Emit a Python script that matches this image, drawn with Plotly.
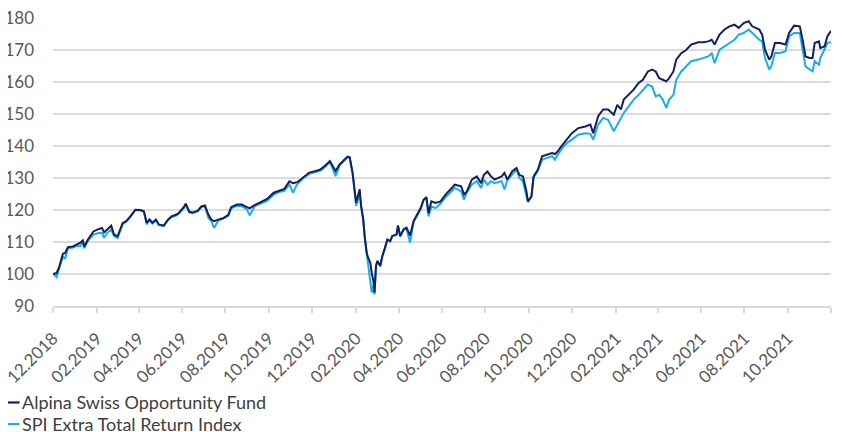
import plotly.graph_objects as go

dates = [
    "2018-12-01", "2018-12-06", "2018-12-10", "2018-12-15", "2018-12-18", "2018-12-22", "2018-12-29",
    "2019-01-04", "2019-01-08", "2019-01-12", "2019-01-14", "2019-01-19", "2019-01-27",
    "2019-02-03", "2019-02-08", "2019-02-11", "2019-02-15", "2019-02-21", "2019-02-25",
    "2019-03-02", "2019-03-09", "2019-03-14", "2019-03-20", "2019-03-27",
    "2019-04-03", "2019-04-08", "2019-04-12", "2019-04-16", "2019-04-20", "2019-04-25", "2019-04-29",
    "2019-05-06", "2019-05-12", "2019-05-17", "2019-05-23", "2019-05-27",
    "2019-06-04", "2019-06-06", "2019-06-11", "2019-06-16", "2019-06-23", "2019-06-28",
    "2019-07-03", "2019-07-08", "2019-07-12", "2019-07-16", "2019-07-22", "2019-07-29",
    "2019-08-05", "2019-08-09", "2019-08-17", "2019-08-24", "2019-08-31",
    "2019-09-04", "2019-09-11", "2019-09-21", "2019-09-28",
    "2019-10-08", "2019-10-15", "2019-10-23", "2019-10-30",
    "2019-11-04", "2019-11-10", "2019-11-20", "2019-11-27",
    "2019-12-06", "2019-12-13", "2019-12-20", "2019-12-26", "2019-12-28",
    "2020-01-03", "2020-01-09", "2020-01-16", "2020-01-20", "2020-01-23", "2020-01-27",
    "2020-02-01", "2020-02-06", "2020-02-08", "2020-02-11", "2020-02-13", "2020-02-16", "2020-02-18",
    "2020-02-21", "2020-02-23", "2020-02-25", "2020-02-27", "2020-02-29",
    "2020-03-02", "2020-03-06", "2020-03-09", "2020-03-13", "2020-03-16", "2020-03-20", "2020-03-23",
    "2020-03-29", "2020-03-31",
    "2020-04-03", "2020-04-08", "2020-04-12", "2020-04-17", "2020-04-22", "2020-04-26",
    "2020-05-02", "2020-05-06", "2020-05-10", "2020-05-13", "2020-05-17", "2020-05-23", "2020-05-30",
    "2020-06-06", "2020-06-13", "2020-06-19", "2020-06-28",
    "2020-07-02", "2020-07-06", "2020-07-13", "2020-07-20", "2020-07-26", "2020-07-30",
    "2020-08-04", "2020-08-09", "2020-08-14", "2020-08-24", "2020-08-28",
    "2020-09-01", "2020-09-08", "2020-09-14", "2020-09-18", "2020-09-23", "2020-09-28", "2020-09-30",
    "2020-10-05", "2020-10-08", "2020-10-14", "2020-10-20", "2020-10-27",
    "2020-11-03", "2020-11-07", "2020-11-11", "2020-11-18", "2020-11-24",
    "2020-12-01", "2020-12-10", "2020-12-20", "2020-12-27", "2020-12-31",
    "2021-01-07", "2021-01-14", "2021-01-21", "2021-01-29",
    "2021-02-03", "2021-02-08", "2021-02-12", "2021-02-19", "2021-02-26",
    "2021-03-05", "2021-03-11", "2021-03-18", "2021-03-24", "2021-03-29",
    "2021-04-03", "2021-04-08", "2021-04-13", "2021-04-17", "2021-04-23", "2021-04-27",
    "2021-05-04", "2021-05-11", "2021-05-18", "2021-05-28",
    "2021-06-04", "2021-06-11", "2021-06-16", "2021-06-20", "2021-06-27",
    "2021-07-04", "2021-07-11", "2021-07-18", "2021-07-24", "2021-07-31",
    "2021-08-07", "2021-08-12", "2021-08-16", "2021-08-22", "2021-08-26", "2021-08-30",
    "2021-09-05", "2021-09-08", "2021-09-13", "2021-09-20", "2021-09-28",
    "2021-10-03", "2021-10-10", "2021-10-18", "2021-10-22", "2021-10-26",
    "2021-11-01", "2021-11-05", "2021-11-08", "2021-11-14", "2021-11-16", "2021-11-22", "2021-11-26",
    "2021-12-01",
]

fund = [
    100, 100.3, 102.4, 106.4, 106.5, 108.4, 108.6,
    109.2, 109.7, 110.5, 108.5, 110.7, 113.3,
    114, 114.4, 113, 113.9, 115.1, 112.3,
    111.8, 115.9, 116.5, 118, 120.1,
    120, 119.6, 116, 117, 116, 117, 115.5,
    115.1, 117, 118, 118.5, 119,
    121.1, 122, 119.5, 119.2, 119.8, 121.1,
    121.4, 118.5, 117, 116.5, 117, 117.5,
    118.5, 120.9, 121.7, 121.7, 120.9,
    120.5, 121.5, 122.6, 123.4,
    125.4, 126, 126.6, 129,
    128.4, 128.7, 130.6, 131.7,
    132.2, 132.7, 134, 135.3, 134.5,
    132.2, 134.3, 135.8, 136.7, 136.5, 131.7,
    122.3, 126.5, 121.5, 117.1, 111.9, 106.5, 105.1,
    103.5, 100.4, 98.3, 94.2, 102.5,
    104.1, 102.5, 105.6, 108.2, 110.8, 110.3, 111.9,
    112.4, 115.2,
    111.9, 114, 114.5, 112, 116.5, 118,
    120.6, 123.2, 124, 119, 122.7, 122.2, 122.7,
    124.8, 126.4, 127.9, 127.4,
    124.8, 125.8, 129.5, 130.5, 128.4, 131,
    132, 130.5, 129.5, 130.5, 131.6,
    129.5, 132.1, 133.1, 131, 130.5, 125.8, 122.7,
    124.3, 130.5, 132.6, 136.8, 137.3,
    137.8, 137.5, 138.3, 140.4, 142,
    144, 145.6, 146.1, 146.7, 144,
    149.3, 151.4, 151.4, 149.8,
    152.9, 151.4, 154.5, 156, 157.6,
    159.7, 160.7, 163.3, 163.9, 163.3,
    161.2, 160.7, 160.2, 161.2, 163.3, 167,
    169, 170, 171.7, 172.4,
    172.4, 172.7, 173.2, 171.7, 174.8,
    176.4, 177.4, 177.9, 176.9, 178.4,
    179, 177.4, 176.9, 176.4, 174.8, 170.1,
    167, 168, 172.2, 172.2, 171.7,
    175.3, 177.6, 177.4, 173.2, 168,
    167.5, 167.5, 172.2, 172.7, 170.6, 171.2, 174.3,
    176,
]

index = [
    100, 99, 102, 105.5, 104.7, 108, 108.3,
    108.8, 108.6, 110, 108, 110.3, 112.3,
    112.8, 112.8, 111.3, 112.8, 113.9, 111.8,
    111.2, 115.5, 116.3, 117.8, 120,
    119.9, 119.5, 115.5, 117, 115.8, 116.8, 115.3,
    115, 116.8, 117.8, 118.2, 118.8,
    120.8, 121.8, 119.2, 119, 119.6, 120.9,
    121.2, 117.5, 116.5, 114.4, 116.8, 117.3,
    118.2, 120.5, 121.3, 121.2, 120.2,
    118.3, 121.2, 122, 122.8,
    124.8, 125.6, 126, 128,
    125.4, 128, 130.2, 131.3,
    131.9, 132.3, 133.6, 135, 134,
    130.6, 134, 135.5, 136.5, 136.2, 131.5,
    121.3, 124.9, 121, 117, 111.5, 106, 103.5,
    97.3, 94.2, 96.3, 93.6, 102.5,
    104, 102.5, 105.6, 108, 110.6, 110.2, 111.8,
    112.2, 115,
    111.7, 113.8, 114.2, 109.8, 116.3, 117.8,
    120.3, 123, 124, 118, 121.1, 120.6, 122,
    124, 125.6, 126.9, 125.8,
    123.2, 125.5, 127.9, 129, 126.9, 129.5,
    127.9, 129, 128.4, 129, 126.4,
    129.3, 131, 132.6, 130, 129, 124.3, 122.5,
    124, 130.2, 132.2, 135.7, 136.3,
    136.8, 135.7, 137.3, 139.4, 140.9,
    142, 143.5, 144, 143.8, 142,
    146.7, 148.8, 148.2, 144.6,
    146.7, 148.8, 150.3, 152.4, 154.5,
    156, 157.6, 159.2, 158.6, 155.5,
    156, 154.5, 151.9, 154.5, 156, 160.7,
    163.3, 164.9, 166.5, 167,
    167.5, 168, 169, 165.9, 170.1,
    171.1, 172.2, 173.2, 174.8, 175.3,
    176.4, 175.3, 174.3, 173.2, 172.7, 167.5,
    163.9, 165, 169.1, 169.1, 169.6,
    174.3, 175.3, 175.3, 170.1, 164.9,
    163.9, 163.3, 166.5, 165.4, 167.5, 170.5, 172.2,
    172.4,
]

series_names = ["Alpina Swiss Opportunity Fund", "SPI Extra Total Return Index"]
series_colors = ["#10215e", "#1badea"]

tick_dates = [
    "2018-12-01", "2019-02-01", "2019-04-01", "2019-06-01", "2019-08-01", "2019-10-01",
    "2019-12-01", "2020-02-01", "2020-04-01", "2020-06-01", "2020-08-01", "2020-10-01",
    "2020-12-01", "2021-02-01", "2021-04-01", "2021-06-01", "2021-08-01", "2021-10-01",
    "2021-12-01",
]
tick_labels = [
    "12.2018", "02.2019", "04.2019", "06.2019", "08.2019", "10.2019",
    "12.2019", "02.2020", "04.2020", "06.2020", "08.2020", "10.2020",
    "12.2020", "02.2021", "04.2021", "06.2021", "08.2021", "10.2021",
    "",
]
y_ticks = [90, 100, 110, 120, 130, 140, 150, 160, 170, 180]

FONT = "Lato"
fig = go.Figure()
# draw index first so the fund line sits on top
for name, vals, col in [(series_names[1], index, series_colors[1]),
                        (series_names[0], fund, series_colors[0])]:
    fig.add_trace(go.Scatter(x=dates, y=vals, mode="lines", name=name,
                             line=dict(color=col, width=2), showlegend=False))

# page body has an 8px default margin; the figure is sized to fit the window
fig.update_layout(
    width=836, height=424,
    margin=dict(l=45, r=13, t=10, b=126, autoexpand=False),
    paper_bgcolor="white", plot_bgcolor="white",
    font=dict(family=FONT, color="#595959"),
    showlegend=False,
)
fig.update_xaxes(
    type="date", automargin=False, ticklabeloverflow="allow",
    range=[tick_dates[0], tick_dates[-1]],
    tickmode="array", tickvals=tick_dates, ticktext=tick_labels,
    tickangle=-45, tickfont=dict(size=17, color="#595959", family=FONT),
    ticklabelstandoff=9,
    showgrid=False, showline=True, linecolor="#d9d9d9", linewidth=1.5,
    ticks="outside", ticklen=5, tickcolor="#d9d9d9", tickwidth=1.5,
    zeroline=False,
)
fig.update_yaxes(
    automargin=False, ticklabeloverflow="allow",
    range=[90, 180], tickmode="array", tickvals=y_ticks,
    tickfont=dict(size=17, color="#595959", family=FONT),
    showgrid=True, gridcolor="#dcdcdc", gridwidth=1.5,
    zeroline=False, showline=False, ticklabelstandoff=18,
)

# legend rows (key line + label)
legend_rows_y = [-0.335, -0.41]
for name, col, yy in zip(series_names, series_colors, legend_rows_y):
    fig.add_shape(type="line", xref="paper", yref="paper",
                  x0=-0.065, x1=-0.043, y0=yy, y1=yy,
                  line=dict(color=col, width=2.2))
    fig.add_annotation(text=name, xref="paper", yref="paper", x=-0.041, y=yy,
                       xanchor="left", yanchor="middle", showarrow=False,
                       borderpad=0,
                       font=dict(size=18, color="#404040", family=FONT))

fig.write_html("out.html")
